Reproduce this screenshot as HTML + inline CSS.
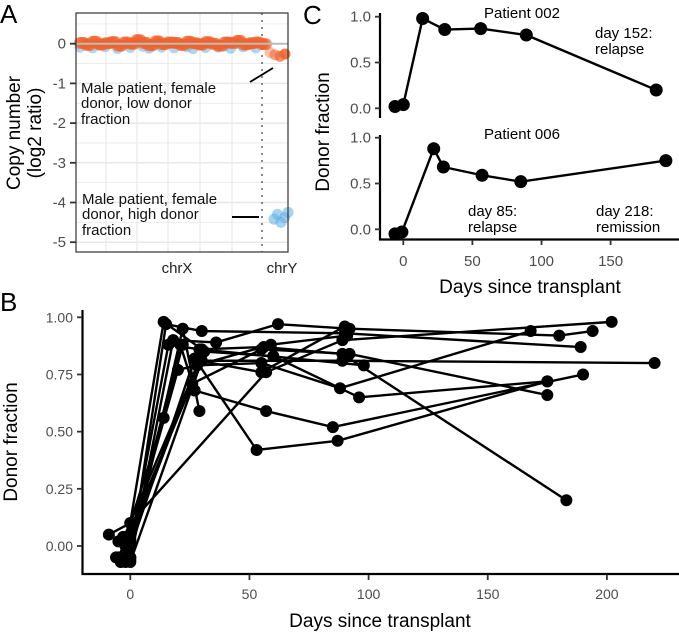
<!DOCTYPE html>
<html><head><meta charset="utf-8">
<style>
html,body{margin:0;padding:0;background:#fff;}
svg{display:block;font-family:"Liberation Sans",sans-serif;}
</style></head>
<body>
<svg id="fig" width="679" height="632" viewBox="0 0 679 632" xmlns="http://www.w3.org/2000/svg">
  <!-- Panel A -->
  <g>
    <text x="0" y="23" font-size="26">A</text>
    <rect x="76" y="13" width="212" height="239" fill="#fff" stroke="#333" stroke-width="1"/>
    <g id="aGrid"></g>
    <line x1="262" y1="13" x2="262" y2="252" stroke="#888" stroke-width="2" stroke-dasharray="2,5"/>
    <g id="aPts"></g>
    <rect x="76" y="13" width="212" height="239" fill="none" stroke="#333" stroke-width="1.2"/>
    <g id="aTicks"></g>
    <text x="177" y="273" font-size="15" fill="#222" text-anchor="middle">chrX</text>
    <text x="282" y="273" font-size="15" fill="#222" text-anchor="middle">chrY</text>
    <text transform="translate(20,133) rotate(-90)" font-size="19" text-anchor="middle"><tspan x="0" dy="0">Copy number</tspan><tspan x="0" dy="21">(log2 ratio)</tspan></text>
    <g font-size="15" fill="#111">
      <text x="81" y="93">Male patient, female</text>
      <text x="81" y="108">donor, low donor</text>
      <text x="81" y="124">fraction</text>
    </g>
    <line x1="250" y1="82" x2="273" y2="68" stroke="#000" stroke-width="1.8"/>
    <g font-size="15" fill="#111">
      <text x="82" y="204">Male patient, female</text>
      <text x="82" y="219">donor,  high donor</text>
      <text x="82" y="235">fraction</text>
    </g>
    <line x1="232" y1="217" x2="259" y2="217" stroke="#000" stroke-width="2"/>
  </g>

  <!-- Panel C -->
  <g>
    <text x="303" y="24" font-size="26">C</text>
    <g id="cPlot"></g>
    <text x="522" y="18" font-size="15" text-anchor="middle">Patient 002</text>
    <text x="522" y="139" font-size="15" text-anchor="middle">Patient 006</text>
    <g font-size="15"><text x="595" y="38">day 152:</text><text x="595" y="54">relapse</text></g>
    <g font-size="15"><text x="468" y="216">day 85:</text><text x="468" y="232">relapse</text></g>
    <g font-size="15"><text x="596" y="216">day 218:</text><text x="596" y="232">remission</text></g>
    <text transform="translate(329,132) rotate(-90)" font-size="19" text-anchor="middle">Donor fraction</text>
    <text x="530" y="293" font-size="19" text-anchor="middle">Days since transplant</text>
  </g>

  <!-- Panel B -->
  <g>
    <text x="0" y="311" font-size="26">B</text>
    <g id="bPlot"></g>
    <text transform="translate(17,442) rotate(-90)" font-size="19" text-anchor="middle">Donor fraction</text>
    <text x="380" y="627" font-size="19" text-anchor="middle">Days since transplant</text>
  </g>
</svg>
<script>
// ---- Panel A data ----
const aYTicks = [0, -1, -2, -3, -4, -5];
const aXOrangeValues = [0.02,-0.03,0.05,-0.02,0.01,0.04,-0.05,0.03,0.0,0.09,0.02,-0.04,0.06,-0.01,0.03,0.02,-0.03,0.05,0.01,-0.02,0.04,0.0,-0.05,0.03,0.02,0.07,-0.02,0.01,0.03,-0.01];
const aXBlueValues = [-0.06,0.03,-0.08,0.02,-0.05,0.04,-0.1,0.01,-0.07,0.05,-0.04,-0.09,0.02,-0.06,0.03,-0.08,0.01,-0.05,-0.1,0.02,-0.07,0.04,-0.06,-0.03,-0.09,0.03,-0.05,0.01,-0.08,0.02];
const aYOrangeValues = [-0.22,-0.28,-0.32,-0.26];
const aYBlueValues = [-4.42,-4.3,-4.5,-4.38,-4.25];

// ---- Panel C data ----
const p002Days = [-6, 0, 14, 30, 56, 89, 183];
const p002Frac = [0.02, 0.04, 0.98, 0.86, 0.87, 0.80, 0.20];
const p006Days = [-6, -1, 22, 29, 57, 85, 190];
const p006Frac = [-0.05, -0.03, 0.88, 0.68, 0.59, 0.52, 0.75];
const cXTicks = [0, 50, 100, 150];
const cYTicks = [0, 0.5, 1.0];
const cYTickLabels = ["0.0", "0.5", "1.0"];

// ---- Panel B data ----
const bXTicks = [0, 50, 100, 150, 200];
const bYTicks = [0, 0.25, 0.5, 0.75, 1.0];
const bYTickLabels = ["0.00", "0.25", "0.50", "0.75", "1.00"];
const bDays = [
  [-5, -1, 14, 30, 56, 89, 183],
  [-6, -1, 21, 27, 57, 85, 190],
  [-4, 0, 15, 30, 90, 189],
  [-3, 0, 16, 29, 98],
  [0, 22, 29],
  [-2, 0, 18, 36, 62, 92, 180, 194],
  [0, 20, 28, 55, 88, 168],
  [-9, 0, 14, 22],
  [0, 57, 89, 202],
  [-1, 27, 53, 87, 175],
  [-2, 31, 60, 96, 175],
  [-5, 26, 55, 92, 175],
  [-4, 0, 30, 89, 220],
  [0, 28, 59, 91],
  [-3, 29, 55, 90]
];
const bFrac = [
  [0.02, 0.04, 0.98, 0.86, 0.87, 0.84, 0.20],
  [-0.05, -0.03, 0.88, 0.68, 0.59, 0.52, 0.75],
  [-0.07, -0.05, 0.97, 0.94, 0.93, 0.87],
  [0.04, 0.0, 0.88, 0.86, 0.79],
  [-0.05, 0.95, 0.59],
  [-0.07, -0.06, 0.90, 0.89, 0.97, 0.95, 0.92, 0.94],
  [0.03, 0.77, 0.79, 0.80, 0.69, 0.94],
  [0.05, 0.10, 0.56, 0.88],
  [0.10, 0.76, 0.90, 0.98],
  [-0.04, 0.82, 0.42, 0.46, 0.72],
  [0.0, 0.85, 0.83, 0.65, 0.72],
  [-0.05, 0.71, 0.86, 0.84, 0.66],
  [-0.06, -0.07, 0.81, 0.81, 0.80],
  [0.02, 0.79, 0.88, 0.92],
  [0.03, 0.81, 0.76, 0.96]
];

const NS = "http://www.w3.org/2000/svg";
function mk(tag, attrs, parent){ const e=document.createElementNS(NS,tag); for(const k in attrs) e.setAttribute(k,attrs[k]); parent.appendChild(e); return e; }

// ---- Panel A drawing ----
const aY = v => 43.7 + (-v) * 39.7;
const aGrid = document.getElementById('aGrid');
for (let v = 0.5; v >= -5.5; v -= 0.5) {
  const y = aY(v); if (y < 13 || y > 252) continue;
  const g = mk('line',{x1:76,x2:288,y1:y,y2:y,stroke:'#e8e8e8','stroke-width':Number.isInteger(v)?1.5:0.8},aGrid);
  
  
}
[106,137,168,200,232].forEach(x=>{
  const g = mk('line',{x1:x,x2:x,y1:13,y2:252,stroke:'#e8e8e8','stroke-width':1.2},aGrid);
  
  
});
const aPts = document.getElementById('aPts');
const chrXStart = 80, chrXEnd = 262;
aXBlueValues.forEach((v,i)=>{
  const x = chrXStart + i*(chrXEnd-chrXStart)/(aXBlueValues.length-1);
  const c = mk('circle',{cx:x,cy:aY(v)+1,r:5.5,fill:'#5dade2','fill-opacity':0.5},aPts);
  
  
});
aXOrangeValues.forEach((v,i)=>{
  const x = chrXStart + i*(chrXEnd-chrXStart)/(aXOrangeValues.length-1);
  for (let k=0;k<3;k++){
    const c = mk('circle',{cx:x+k*2,cy:aY(v),r:6,fill:'#f0622d','fill-opacity':0.65},aPts);
    
    
  }
});
const zl = mk('line',{x1:76,x2:288,y1:aY(0),y2:aY(0),stroke:'#bbb','stroke-width':2},aPts);


aYOrangeValues.forEach((v,i)=>{
  const c = mk('circle',{cx:270+i*5,cy:aY(v),r:5.5,fill:'#f0622d','fill-opacity':0.4+0.15*i},aPts);
  
  
});
aYBlueValues.forEach((v,i)=>{
  const c = mk('circle',{cx:274+i*3.5,cy:aY(v),r:5.5,fill:'#5dade2','fill-opacity':0.55},aPts);
  
  
});
const aTicks = document.getElementById('aTicks');
aYTicks.forEach(v=>{
  const y = aY(v);
  const t = mk('line',{x1:70,x2:76,y1:y,y2:y,stroke:'#333','stroke-width':1.8},aTicks);
  
  
  const l = mk('text',{x:66,y:y+5,'font-size':15,fill:'#4d4d4d','text-anchor':'end'},aTicks);
  l.textContent = v === 0 ? '0' : String(v);
  
  
});

// ---- Panel C drawing ----
const cX = d => 403.3 + d * 1.382;
const cYTop = v => 108.3 - v * 91.6;
const cYBot = v => 229.3 - v * 91.6;
const cPlot = document.getElementById('cPlot');
function axisLine(x1,y1,x2,y2,name,parent){
  const l = mk('line',{x1,y1,x2,y2,stroke:'#000','stroke-width':2.2},parent);
  
  
}
axisLine(380,13,380,118,'panel-c-top-y-axis',cPlot);
axisLine(380,135,380,240,'panel-c-bottom-y-axis',cPlot);
axisLine(379,239.5,679,239.5,'panel-c-x-axis',cPlot);
[[cYTop,'top'],[cYBot,'bottom']].forEach(([fy,nm])=>{
  cYTicks.forEach((v,i)=>{
    const y = fy(v);
    const t = mk('line',{x1:375,x2:380,y1:y,y2:y,stroke:'#333','stroke-width':1.8},cPlot);
    
    
    const l = mk('text',{x:371,y:y+5,'font-size':15,fill:'#4d4d4d','text-anchor':'end'},cPlot);
    l.textContent = cYTickLabels[i];
    
    
  });
});
cXTicks.forEach(d=>{
  const x = cX(d);
  const t = mk('line',{x1:x,x2:x,y1:240,y2:245,stroke:'#333','stroke-width':1.8},cPlot);
  
  
  const l = mk('text',{x:x,y:266,'font-size':15,fill:'#4d4d4d','text-anchor':'middle'},cPlot);
  l.textContent = String(d);
  
  
});
function drawSeries(days, fr, fx, fy, r, name, parent){
  const pts = days.map((d,i)=>fx(d)+','+fy(fr[i])).join(' ');
  const pl = mk('polyline',{points:pts,fill:'none',stroke:'#000','stroke-width':2.4,'stroke-linejoin':'round'},parent);
  
  
  days.forEach((d,i)=>{
    const c = mk('circle',{cx:fx(d),cy:fy(fr[i]),r:r,fill:'#000'},parent);
    
    
  });
}
drawSeries(p002Days,p002Frac,cX,cYTop,6.5,'patient-002',cPlot);
drawSeries(p006Days,p006Frac,cX,cYBot,6.5,'patient-006',cPlot);

// ---- Panel B drawing ----
const bX = d => 130.3 + d * 2.383;
const bY = v => 546 - v * 228.7;
const bPlot = document.getElementById('bPlot');
axisLine(82.5,310,82.5,575,'panel-b-y-axis',bPlot);
axisLine(81.5,574,679,574,'panel-b-x-axis',bPlot);
bYTicks.forEach((v,i)=>{
  const y = bY(v);
  const t = mk('line',{x1:77,x2:82,y1:y,y2:y,stroke:'#333','stroke-width':1.8},bPlot);
  
  
  const l = mk('text',{x:73,y:y+5,'font-size':14,fill:'#4d4d4d','text-anchor':'end'},bPlot);
  l.textContent = bYTickLabels[i];
  
  
});
bXTicks.forEach(d=>{
  const x = bX(d);
  const t = mk('line',{x1:x,x2:x,y1:575,y2:580,stroke:'#333','stroke-width':1.8},bPlot);
  
  
  const l = mk('text',{x:x,y:599,'font-size':14,fill:'#4d4d4d','text-anchor':'middle'},bPlot);
  l.textContent = String(d);
  
  
});
bDays.forEach((days,i)=>{
  drawSeries(days,bFrac[i],bX,bY,6,'patient-'+(i+1),bPlot);
});
</script>
</body></html>
